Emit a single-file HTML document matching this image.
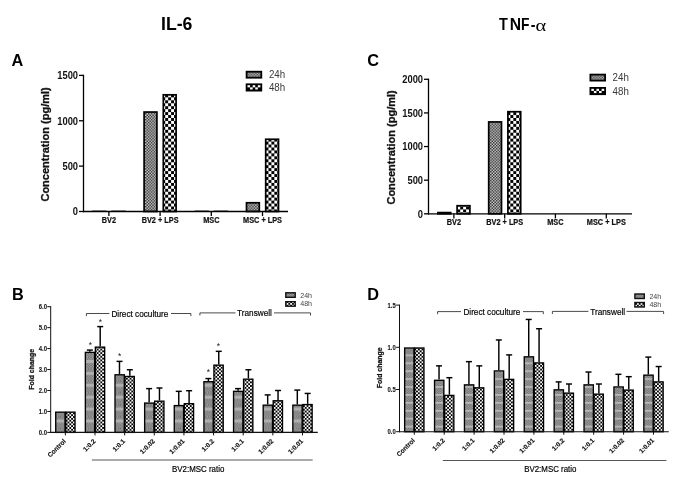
<!DOCTYPE html>
<html>
<head>
<meta charset="utf-8">
<title>IL-6 and TNF-alpha</title>
<style>
html, body { margin: 0; padding: 0; background: #ffffff; }
body { width: 685px; height: 492px; overflow: hidden; font-family: "Liberation Sans", sans-serif; }
svg { display: block; position: absolute; left: 0; top: 0; will-change: transform; }
svg text { font-family: "Liberation Sans", sans-serif; }
</style>
</head>
<body>
<svg width="685" height="492" viewBox="0 0 685 492">
<rect x="0" y="0" width="685" height="492" fill="#ffffff"/>

<defs>
<pattern id="pA24" width="2.9" height="2.9" patternUnits="userSpaceOnUse">
  <rect width="2.9" height="2.9" fill="#d2d2d2"/>
  <rect x="0" y="0" width="1.45" height="1.45" fill="#2a2a2a"/>
  <rect x="1.45" y="1.45" width="1.45" height="1.45" fill="#2a2a2a"/>
</pattern>
<pattern id="pA48" width="5.9" height="5.9" patternUnits="userSpaceOnUse">
  <rect width="5.9" height="5.9" fill="#fff"/>
  <rect x="0" y="0" width="2.95" height="2.95" fill="#000"/>
  <rect x="2.95" y="2.95" width="2.95" height="2.95" fill="#000"/>
</pattern>
<pattern id="speck" width="2.6" height="2.6" patternUnits="userSpaceOnUse">
  <rect width="2.6" height="2.6" fill="#b0b0b0"/>
  <rect x="0" y="0" width="1.3" height="1.3" fill="#606060"/>
  <rect x="1.3" y="1.3" width="1.3" height="1.3" fill="#606060"/>
</pattern>
<pattern id="pB24" width="20" height="11.9" patternUnits="userSpaceOnUse">
  <rect width="20" height="11.9" fill="url(#speck)"/>
  <rect x="0" y="3.0" width="20" height="3.0" fill="#c0c0c0" opacity="0.7"/>
</pattern>
<pattern id="pD24" width="20" height="7.92" patternUnits="userSpaceOnUse">
  <rect width="20" height="7.92" fill="url(#speck)"/>
  <rect x="0" y="5.9" width="20" height="1.8" fill="#c8c8c8" opacity="0.75"/>
</pattern>
<pattern id="pB48" width="3.65" height="3.65" patternUnits="userSpaceOnUse">
  <rect width="3.65" height="3.65" fill="#fff"/>
  <rect x="0" y="0" width="1.825" height="1.825" fill="#000"/>
  <rect x="1.825" y="1.825" width="1.825" height="1.825" fill="#000"/>
</pattern>
</defs>

<text transform="translate(176.7 29.7) scale(0.92 1)" font-size="19.2" font-weight="bold" text-anchor="middle" fill="#000">IL-6</text>
<text transform="translate(499.0 30.4) scale(0.92 1)" font-size="15.7" font-weight="bold" text-anchor="start" fill="#000">T</text>
<text transform="translate(509.7 30.4)" font-size="15.7" font-weight="bold" text-anchor="start" fill="#000">N</text>
<text transform="translate(521.0 30.4) scale(0.88 1)" font-size="15.7" font-weight="bold" text-anchor="start" fill="#000">F</text>
<text transform="translate(530.8 30.4) scale(0.9 1)" font-size="15.7" font-weight="bold" text-anchor="start" fill="#000">-</text>
<text transform="translate(535.6 30.5) scale(1.2 1)" font-size="17" style='font-family:"Liberation Serif", serif'>α</text>
<text transform="translate(11.6 65.6)" font-size="16.3" font-weight="bold" text-anchor="start" fill="#000">A</text>
<text transform="translate(12.1 299.9)" font-size="16.3" font-weight="bold" text-anchor="start" fill="#000">B</text>
<text transform="translate(367.2 65.5)" font-size="16.3" font-weight="bold" text-anchor="start" fill="#000">C</text>
<text transform="translate(367.2 299.9)" font-size="16.3" font-weight="bold" text-anchor="start" fill="#000">D</text>
<line x1="92.10" y1="210.50" x2="106.50" y2="210.50" stroke="#555" stroke-width="0.6"/>
<line x1="111.30" y1="210.50" x2="125.70" y2="210.50" stroke="#555" stroke-width="0.6"/>
<rect x="144.10" y="112.04" width="12.80" height="99.46" fill="url(#pA24)" stroke="#000" stroke-width="1.7"/>
<rect x="163.30" y="94.80" width="12.80" height="116.70" fill="url(#pA48)" stroke="#000" stroke-width="1.7"/>
<line x1="194.50" y1="210.50" x2="208.90" y2="210.50" stroke="#555" stroke-width="0.6"/>
<line x1="213.70" y1="210.50" x2="228.10" y2="210.50" stroke="#555" stroke-width="0.6"/>
<rect x="246.50" y="202.77" width="12.80" height="8.73" fill="url(#pA24)" stroke="#000" stroke-width="1.7"/>
<rect x="265.70" y="139.26" width="12.80" height="72.24" fill="url(#pA48)" stroke="#000" stroke-width="1.7"/>
<line x1="83.50" y1="74.75" x2="83.50" y2="212.15" stroke="#000" stroke-width="1.3"/>
<line x1="82.85" y1="211.50" x2="288.00" y2="211.50" stroke="#000" stroke-width="1.3"/>
<line x1="79.00" y1="211.50" x2="83.50" y2="211.50" stroke="#000" stroke-width="1.3"/>
<text transform="translate(78.1 215.4) scale(0.93 1)" font-size="10.1" font-weight="bold" text-anchor="end" fill="#111">0</text>
<line x1="79.00" y1="166.13" x2="83.50" y2="166.13" stroke="#000" stroke-width="1.3"/>
<text transform="translate(78.1 170.03333333333333) scale(0.93 1)" font-size="10.1" font-weight="bold" text-anchor="end" fill="#111">500</text>
<line x1="79.00" y1="120.77" x2="83.50" y2="120.77" stroke="#000" stroke-width="1.3"/>
<text transform="translate(78.1 124.66666666666667) scale(0.93 1)" font-size="10.1" font-weight="bold" text-anchor="end" fill="#111">1000</text>
<line x1="79.00" y1="75.40" x2="83.50" y2="75.40" stroke="#000" stroke-width="1.3"/>
<text transform="translate(78.1 79.30000000000001) scale(0.93 1)" font-size="10.1" font-weight="bold" text-anchor="end" fill="#111">1500</text>
<line x1="108.90" y1="211.50" x2="108.90" y2="216.10" stroke="#000" stroke-width="1.3"/>
<line x1="160.10" y1="211.50" x2="160.10" y2="216.10" stroke="#000" stroke-width="1.3"/>
<line x1="211.30" y1="211.50" x2="211.30" y2="216.10" stroke="#000" stroke-width="1.3"/>
<line x1="262.50" y1="211.50" x2="262.50" y2="216.10" stroke="#000" stroke-width="1.3"/>
<text transform="translate(108.9 222.75) scale(0.885 1)" font-size="8.3" font-weight="bold" text-anchor="middle" fill="#111" stroke="#111" stroke-width="0.2">BV2</text>
<text transform="translate(160.1 222.75) scale(0.885 1)" font-size="8.3" font-weight="bold" text-anchor="middle" fill="#111" stroke="#111" stroke-width="0.2">BV2 + LPS</text>
<text transform="translate(211.3 222.75) scale(0.885 1)" font-size="8.3" font-weight="bold" text-anchor="middle" fill="#111" stroke="#111" stroke-width="0.2">MSC</text>
<text transform="translate(262.5 222.75) scale(0.885 1)" font-size="8.3" font-weight="bold" text-anchor="middle" fill="#111" stroke="#111" stroke-width="0.2">MSC + LPS</text>
<text transform="translate(48.7 144.4) rotate(-90)" font-size="11.0" font-weight="bold" text-anchor="middle" fill="#111" stroke="#111" stroke-width="0.3">Concentration (pg/ml)</text>
<rect x="246.60" y="71.70" width="14.70" height="6.00" fill="url(#pA24)" stroke="#000" stroke-width="1.8"/>
<rect x="245.70" y="83.40" width="16.5" height="8.1" fill="#000"/>
<rect x="247.50" y="85.20" width="2.58" height="2.15" fill="#fff"/>
<rect x="252.66" y="85.20" width="2.58" height="2.15" fill="#fff"/>
<rect x="257.82" y="85.20" width="2.58" height="2.15" fill="#fff"/>
<rect x="250.08" y="87.35" width="2.58" height="2.15" fill="#fff"/>
<rect x="255.24" y="87.35" width="2.58" height="2.15" fill="#fff"/>
<text transform="translate(268.9 78.2) scale(0.93 1)" font-size="10.5" font-weight="normal" text-anchor="start" fill="#3a3a3a">24h</text>
<text transform="translate(268.9 91.0) scale(0.93 1)" font-size="10.5" font-weight="normal" text-anchor="start" fill="#3a3a3a">48h</text>
<rect x="437.90" y="212.58" width="12.80" height="1.22" fill="url(#pA24)" stroke="#000" stroke-width="1.7"/>
<rect x="457.10" y="205.72" width="12.80" height="8.08" fill="url(#pA48)" stroke="#000" stroke-width="1.7"/>
<rect x="488.70" y="121.93" width="12.80" height="91.87" fill="url(#pA24)" stroke="#000" stroke-width="1.7"/>
<rect x="507.90" y="111.71" width="12.80" height="102.09" fill="url(#pA48)" stroke="#000" stroke-width="1.7"/>
<line x1="428.50" y1="78.65" x2="428.50" y2="214.45" stroke="#000" stroke-width="1.3"/>
<line x1="427.85" y1="213.80" x2="632.00" y2="213.80" stroke="#000" stroke-width="1.3"/>
<line x1="424.00" y1="213.80" x2="428.50" y2="213.80" stroke="#000" stroke-width="1.3"/>
<text transform="translate(423.1 217.70000000000002) scale(0.93 1)" font-size="10.1" font-weight="bold" text-anchor="end" fill="#111">0</text>
<line x1="424.00" y1="180.18" x2="428.50" y2="180.18" stroke="#000" stroke-width="1.3"/>
<text transform="translate(423.1 184.07500000000002) scale(0.93 1)" font-size="10.1" font-weight="bold" text-anchor="end" fill="#111">500</text>
<line x1="424.00" y1="146.55" x2="428.50" y2="146.55" stroke="#000" stroke-width="1.3"/>
<text transform="translate(423.1 150.45000000000002) scale(0.93 1)" font-size="10.1" font-weight="bold" text-anchor="end" fill="#111">1000</text>
<line x1="424.00" y1="112.93" x2="428.50" y2="112.93" stroke="#000" stroke-width="1.3"/>
<text transform="translate(423.1 116.82500000000002) scale(0.93 1)" font-size="10.1" font-weight="bold" text-anchor="end" fill="#111">1500</text>
<line x1="424.00" y1="79.30" x2="428.50" y2="79.30" stroke="#000" stroke-width="1.3"/>
<text transform="translate(423.1 83.20000000000002) scale(0.93 1)" font-size="10.1" font-weight="bold" text-anchor="end" fill="#111">2000</text>
<line x1="453.90" y1="213.80" x2="453.90" y2="218.40" stroke="#000" stroke-width="1.3"/>
<line x1="504.70" y1="213.80" x2="504.70" y2="218.40" stroke="#000" stroke-width="1.3"/>
<line x1="555.40" y1="213.80" x2="555.40" y2="218.40" stroke="#000" stroke-width="1.3"/>
<line x1="606.30" y1="213.80" x2="606.30" y2="218.40" stroke="#000" stroke-width="1.3"/>
<text transform="translate(453.9 225.05) scale(0.885 1)" font-size="8.3" font-weight="bold" text-anchor="middle" fill="#111" stroke="#111" stroke-width="0.2">BV2</text>
<text transform="translate(504.7 225.05) scale(0.885 1)" font-size="8.3" font-weight="bold" text-anchor="middle" fill="#111" stroke="#111" stroke-width="0.2">BV2 + LPS</text>
<text transform="translate(555.4 225.05) scale(0.885 1)" font-size="8.3" font-weight="bold" text-anchor="middle" fill="#111" stroke="#111" stroke-width="0.2">MSC</text>
<text transform="translate(606.3 225.05) scale(0.885 1)" font-size="8.3" font-weight="bold" text-anchor="middle" fill="#111" stroke="#111" stroke-width="0.2">MSC + LPS</text>
<text transform="translate(395.3 147.4) rotate(-90)" font-size="11.0" font-weight="bold" text-anchor="middle" fill="#111" stroke="#111" stroke-width="0.3">Concentration (pg/ml)</text>
<rect x="590.40" y="74.60" width="14.70" height="6.00" fill="url(#pA24)" stroke="#000" stroke-width="1.8"/>
<rect x="589.50" y="87.00" width="16.5" height="8.1" fill="#000"/>
<rect x="591.30" y="88.80" width="2.58" height="2.15" fill="#fff"/>
<rect x="596.46" y="88.80" width="2.58" height="2.15" fill="#fff"/>
<rect x="601.62" y="88.80" width="2.58" height="2.15" fill="#fff"/>
<rect x="593.88" y="90.95" width="2.58" height="2.15" fill="#fff"/>
<rect x="599.04" y="90.95" width="2.58" height="2.15" fill="#fff"/>
<text transform="translate(612.6 81.10000000000001) scale(0.93 1)" font-size="10.5" font-weight="normal" text-anchor="start" fill="#3a3a3a">24h</text>
<text transform="translate(612.6 94.6) scale(0.93 1)" font-size="10.5" font-weight="normal" text-anchor="start" fill="#3a3a3a">48h</text>
<rect x="55.72" y="412.15" width="9.30" height="20.25" fill="url(#pB24)" stroke="#000" stroke-width="1.35"/>
<rect x="65.72" y="412.15" width="9.30" height="20.25" fill="url(#pB48)" stroke="#000" stroke-width="1.35"/>
<line x1="89.84" y1="350.07" x2="89.84" y2="351.67" stroke="#000" stroke-width="1.45"/>
<line x1="86.84" y1="350.07" x2="92.84" y2="350.07" stroke="#000" stroke-width="1.45"/>
<rect x="85.36" y="352.37" width="9.30" height="80.03" fill="url(#pB24)" stroke="#000" stroke-width="1.35"/>
<line x1="100.19" y1="326.60" x2="100.19" y2="346.43" stroke="#000" stroke-width="1.45"/>
<line x1="97.19" y1="326.60" x2="103.19" y2="326.60" stroke="#000" stroke-width="1.45"/>
<rect x="95.36" y="347.13" width="9.30" height="85.27" fill="url(#pB48)" stroke="#000" stroke-width="1.35"/>
<line x1="119.48" y1="361.38" x2="119.48" y2="374.09" stroke="#000" stroke-width="1.45"/>
<line x1="116.48" y1="361.38" x2="122.48" y2="361.38" stroke="#000" stroke-width="1.45"/>
<rect x="115.00" y="374.79" width="9.30" height="57.61" fill="url(#pB24)" stroke="#000" stroke-width="1.35"/>
<line x1="129.83" y1="369.76" x2="129.83" y2="375.76" stroke="#000" stroke-width="1.45"/>
<line x1="126.83" y1="369.76" x2="132.83" y2="369.76" stroke="#000" stroke-width="1.45"/>
<rect x="125.00" y="376.46" width="9.30" height="55.94" fill="url(#pB48)" stroke="#000" stroke-width="1.35"/>
<line x1="149.12" y1="388.61" x2="149.12" y2="402.37" stroke="#000" stroke-width="1.45"/>
<line x1="146.12" y1="388.61" x2="152.12" y2="388.61" stroke="#000" stroke-width="1.45"/>
<rect x="144.64" y="403.07" width="9.30" height="29.33" fill="url(#pB24)" stroke="#000" stroke-width="1.35"/>
<line x1="159.47" y1="387.99" x2="159.47" y2="400.48" stroke="#000" stroke-width="1.45"/>
<line x1="156.47" y1="387.99" x2="162.47" y2="387.99" stroke="#000" stroke-width="1.45"/>
<rect x="154.64" y="401.18" width="9.30" height="31.22" fill="url(#pB48)" stroke="#000" stroke-width="1.35"/>
<line x1="178.76" y1="391.34" x2="178.76" y2="404.88" stroke="#000" stroke-width="1.45"/>
<line x1="175.76" y1="391.34" x2="181.76" y2="391.34" stroke="#000" stroke-width="1.45"/>
<rect x="174.28" y="405.58" width="9.30" height="26.82" fill="url(#pB24)" stroke="#000" stroke-width="1.35"/>
<line x1="189.11" y1="390.71" x2="189.11" y2="403.00" stroke="#000" stroke-width="1.45"/>
<line x1="186.11" y1="390.71" x2="192.11" y2="390.71" stroke="#000" stroke-width="1.45"/>
<rect x="184.28" y="403.70" width="9.30" height="28.70" fill="url(#pB48)" stroke="#000" stroke-width="1.35"/>
<line x1="208.40" y1="378.56" x2="208.40" y2="381.00" stroke="#000" stroke-width="1.45"/>
<line x1="205.40" y1="378.56" x2="211.40" y2="378.56" stroke="#000" stroke-width="1.45"/>
<rect x="203.92" y="381.70" width="9.30" height="50.70" fill="url(#pB24)" stroke="#000" stroke-width="1.35"/>
<line x1="218.75" y1="351.32" x2="218.75" y2="364.45" stroke="#000" stroke-width="1.45"/>
<line x1="215.75" y1="351.32" x2="221.75" y2="351.32" stroke="#000" stroke-width="1.45"/>
<rect x="213.92" y="365.15" width="9.30" height="67.25" fill="url(#pB48)" stroke="#000" stroke-width="1.35"/>
<line x1="238.04" y1="388.61" x2="238.04" y2="390.64" stroke="#000" stroke-width="1.45"/>
<line x1="235.04" y1="388.61" x2="241.04" y2="388.61" stroke="#000" stroke-width="1.45"/>
<rect x="233.56" y="391.34" width="9.30" height="41.06" fill="url(#pB24)" stroke="#000" stroke-width="1.35"/>
<line x1="248.39" y1="369.76" x2="248.39" y2="378.49" stroke="#000" stroke-width="1.45"/>
<line x1="245.39" y1="369.76" x2="251.39" y2="369.76" stroke="#000" stroke-width="1.45"/>
<rect x="243.56" y="379.19" width="9.30" height="53.21" fill="url(#pB48)" stroke="#000" stroke-width="1.35"/>
<line x1="267.68" y1="394.90" x2="267.68" y2="404.46" stroke="#000" stroke-width="1.45"/>
<line x1="264.68" y1="394.90" x2="270.68" y2="394.90" stroke="#000" stroke-width="1.45"/>
<rect x="263.20" y="405.16" width="9.30" height="27.23" fill="url(#pB24)" stroke="#000" stroke-width="1.35"/>
<line x1="278.03" y1="390.50" x2="278.03" y2="400.07" stroke="#000" stroke-width="1.45"/>
<line x1="275.03" y1="390.50" x2="281.03" y2="390.50" stroke="#000" stroke-width="1.45"/>
<rect x="273.20" y="400.77" width="9.30" height="31.63" fill="url(#pB48)" stroke="#000" stroke-width="1.35"/>
<line x1="297.31" y1="390.08" x2="297.31" y2="404.46" stroke="#000" stroke-width="1.45"/>
<line x1="294.31" y1="390.08" x2="300.31" y2="390.08" stroke="#000" stroke-width="1.45"/>
<rect x="292.84" y="405.16" width="9.30" height="27.23" fill="url(#pB24)" stroke="#000" stroke-width="1.35"/>
<line x1="307.67" y1="393.43" x2="307.67" y2="403.84" stroke="#000" stroke-width="1.45"/>
<line x1="304.67" y1="393.43" x2="310.67" y2="393.43" stroke="#000" stroke-width="1.45"/>
<rect x="302.84" y="404.54" width="9.30" height="27.86" fill="url(#pB48)" stroke="#000" stroke-width="1.35"/>
<line x1="50.70" y1="306.20" x2="50.70" y2="432.90" stroke="#111" stroke-width="1.0"/>
<line x1="50.20" y1="432.40" x2="317.80" y2="432.40" stroke="#111" stroke-width="1.1"/>
<line x1="47.30" y1="432.40" x2="50.70" y2="432.40" stroke="#111" stroke-width="1.0"/>
<text transform="translate(47.0 434.84999999999997) scale(0.87 1)" font-size="6.8" font-weight="bold" text-anchor="end" fill="#1a1a1a" stroke="#1a1a1a" stroke-width="0.12">0.0</text>
<line x1="47.30" y1="411.45" x2="50.70" y2="411.45" stroke="#111" stroke-width="1.0"/>
<text transform="translate(47.0 413.9) scale(0.87 1)" font-size="6.8" font-weight="bold" text-anchor="end" fill="#1a1a1a" stroke="#1a1a1a" stroke-width="0.12">1.0</text>
<line x1="47.30" y1="390.50" x2="50.70" y2="390.50" stroke="#111" stroke-width="1.0"/>
<text transform="translate(47.0 392.95) scale(0.87 1)" font-size="6.8" font-weight="bold" text-anchor="end" fill="#1a1a1a" stroke="#1a1a1a" stroke-width="0.12">2.0</text>
<line x1="47.30" y1="369.55" x2="50.70" y2="369.55" stroke="#111" stroke-width="1.0"/>
<text transform="translate(47.0 371.99999999999994) scale(0.87 1)" font-size="6.8" font-weight="bold" text-anchor="end" fill="#1a1a1a" stroke="#1a1a1a" stroke-width="0.12">3.0</text>
<line x1="47.30" y1="348.60" x2="50.70" y2="348.60" stroke="#111" stroke-width="1.0"/>
<text transform="translate(47.0 351.04999999999995) scale(0.87 1)" font-size="6.8" font-weight="bold" text-anchor="end" fill="#1a1a1a" stroke="#1a1a1a" stroke-width="0.12">4.0</text>
<line x1="47.30" y1="327.65" x2="50.70" y2="327.65" stroke="#111" stroke-width="1.0"/>
<text transform="translate(47.0 330.09999999999997) scale(0.87 1)" font-size="6.8" font-weight="bold" text-anchor="end" fill="#1a1a1a" stroke="#1a1a1a" stroke-width="0.12">5.0</text>
<line x1="47.30" y1="306.70" x2="50.70" y2="306.70" stroke="#111" stroke-width="1.0"/>
<text transform="translate(47.0 309.15) scale(0.87 1)" font-size="6.8" font-weight="bold" text-anchor="end" fill="#1a1a1a" stroke="#1a1a1a" stroke-width="0.12">6.0</text>
<line x1="65.37" y1="432.40" x2="65.37" y2="435.40" stroke="#111" stroke-width="1.0"/>
<text transform="translate(66.37 441.7) rotate(-45) scale(0.97 1)" font-size="6.6" font-weight="bold" text-anchor="end" fill="#111" stroke="#111" stroke-width="0.15">Control</text>
<line x1="95.01" y1="432.40" x2="95.01" y2="435.40" stroke="#111" stroke-width="1.0"/>
<text transform="translate(96.01 441.7) rotate(-45) scale(0.97 1)" font-size="6.6" font-weight="bold" text-anchor="end" fill="#111" stroke="#111" stroke-width="0.15">1:0.2</text>
<line x1="124.65" y1="432.40" x2="124.65" y2="435.40" stroke="#111" stroke-width="1.0"/>
<text transform="translate(125.65 441.7) rotate(-45) scale(0.97 1)" font-size="6.6" font-weight="bold" text-anchor="end" fill="#111" stroke="#111" stroke-width="0.15">1:0.1</text>
<line x1="154.29" y1="432.40" x2="154.29" y2="435.40" stroke="#111" stroke-width="1.0"/>
<text transform="translate(155.29000000000002 441.7) rotate(-45) scale(0.97 1)" font-size="6.6" font-weight="bold" text-anchor="end" fill="#111" stroke="#111" stroke-width="0.15">1:0.02</text>
<line x1="183.93" y1="432.40" x2="183.93" y2="435.40" stroke="#111" stroke-width="1.0"/>
<text transform="translate(184.93 441.7) rotate(-45) scale(0.97 1)" font-size="6.6" font-weight="bold" text-anchor="end" fill="#111" stroke="#111" stroke-width="0.15">1:0.01</text>
<line x1="213.57" y1="432.40" x2="213.57" y2="435.40" stroke="#111" stroke-width="1.0"/>
<text transform="translate(214.57000000000002 441.7) rotate(-45) scale(0.97 1)" font-size="6.6" font-weight="bold" text-anchor="end" fill="#111" stroke="#111" stroke-width="0.15">1:0.2</text>
<line x1="243.21" y1="432.40" x2="243.21" y2="435.40" stroke="#111" stroke-width="1.0"/>
<text transform="translate(244.21 441.7) rotate(-45) scale(0.97 1)" font-size="6.6" font-weight="bold" text-anchor="end" fill="#111" stroke="#111" stroke-width="0.15">1:0.1</text>
<line x1="272.85" y1="432.40" x2="272.85" y2="435.40" stroke="#111" stroke-width="1.0"/>
<text transform="translate(273.85 441.7) rotate(-45) scale(0.97 1)" font-size="6.6" font-weight="bold" text-anchor="end" fill="#111" stroke="#111" stroke-width="0.15">1:0.02</text>
<line x1="302.49" y1="432.40" x2="302.49" y2="435.40" stroke="#111" stroke-width="1.0"/>
<text transform="translate(303.49 441.7) rotate(-45) scale(0.97 1)" font-size="6.6" font-weight="bold" text-anchor="end" fill="#111" stroke="#111" stroke-width="0.15">1:0.01</text>
<text transform="translate(34.0 369.3) rotate(-90)" font-size="6.95" font-weight="bold" text-anchor="middle" fill="#111" stroke="#111" stroke-width="0.25">Fold change</text>
<rect x="285.80" y="292.80" width="9.40" height="4.50" fill="url(#speck)" stroke="#111" stroke-width="1.4"/>
<rect x="285.80" y="301.70" width="9.40" height="4.50" fill="url(#pB48)" stroke="#111" stroke-width="1.4"/>
<text transform="translate(300.2 297.70000000000005) scale(0.9 1)" font-size="7.9" font-weight="normal" text-anchor="start" fill="#444">24h</text>
<text transform="translate(300.2 306.2) scale(0.9 1)" font-size="7.9" font-weight="normal" text-anchor="start" fill="#444">48h</text>
<polyline points="86.4,316.1 86.4,313.5 109.4,313.5" fill="none" stroke="#2a2a2a" stroke-width="0.85"/>
<polyline points="171.0,313.5 190.9,313.5 190.9,316.1" fill="none" stroke="#2a2a2a" stroke-width="0.85"/>
<text transform="translate(139.9 316.8) scale(0.935 1)" font-size="8.8" font-weight="normal" text-anchor="middle" fill="#000" stroke="#000" stroke-width="0.18">Direct coculture</text>
<polyline points="199.9,315.5 199.9,312.9 235.5,312.9" fill="none" stroke="#2a2a2a" stroke-width="0.85"/>
<polyline points="274.0,312.9 310.5,312.9 310.5,315.5" fill="none" stroke="#2a2a2a" stroke-width="0.85"/>
<text transform="translate(254.5 316.2) scale(0.935 1)" font-size="8.8" font-weight="normal" text-anchor="middle" fill="#000" stroke="#000" stroke-width="0.18">Transwell</text>
<line x1="91.90" y1="460.00" x2="312.70" y2="460.00" stroke="#444" stroke-width="0.9"/>
<text transform="translate(198.2 471.6) scale(0.9 1)" font-size="8.8" font-weight="normal" text-anchor="middle" fill="#000" stroke="#000" stroke-width="0.18">BV2:MSC ratio</text>
<text transform="translate(90.5 347.5)" font-size="8.5" font-weight="normal" text-anchor="middle" fill="#222">*</text>
<text transform="translate(100.3 324.7)" font-size="8.5" font-weight="normal" text-anchor="middle" fill="#222">*</text>
<text transform="translate(119.6 359.0)" font-size="8.5" font-weight="normal" text-anchor="middle" fill="#222">*</text>
<text transform="translate(208.5 374.6)" font-size="8.5" font-weight="normal" text-anchor="middle" fill="#222">*</text>
<text transform="translate(218.4 348.6)" font-size="8.5" font-weight="normal" text-anchor="middle" fill="#222">*</text>
<rect x="404.65" y="348.00" width="9.30" height="83.70" fill="url(#pD24)" stroke="#000" stroke-width="1.35"/>
<rect x="414.65" y="348.00" width="9.30" height="83.70" fill="url(#pB48)" stroke="#000" stroke-width="1.35"/>
<line x1="439.03" y1="365.87" x2="439.03" y2="379.60" stroke="#000" stroke-width="1.45"/>
<line x1="436.03" y1="365.87" x2="442.03" y2="365.87" stroke="#000" stroke-width="1.45"/>
<rect x="434.55" y="380.30" width="9.30" height="51.40" fill="url(#pD24)" stroke="#000" stroke-width="1.35"/>
<line x1="449.38" y1="377.68" x2="449.38" y2="394.71" stroke="#000" stroke-width="1.45"/>
<line x1="446.38" y1="377.68" x2="452.38" y2="377.68" stroke="#000" stroke-width="1.45"/>
<rect x="444.55" y="395.41" width="9.30" height="36.29" fill="url(#pB48)" stroke="#000" stroke-width="1.35"/>
<line x1="468.93" y1="361.65" x2="468.93" y2="384.16" stroke="#000" stroke-width="1.45"/>
<line x1="465.93" y1="361.65" x2="471.93" y2="361.65" stroke="#000" stroke-width="1.45"/>
<rect x="464.45" y="384.86" width="9.30" height="46.84" fill="url(#pD24)" stroke="#000" stroke-width="1.35"/>
<line x1="479.28" y1="365.87" x2="479.28" y2="387.11" stroke="#000" stroke-width="1.45"/>
<line x1="476.28" y1="365.87" x2="482.28" y2="365.87" stroke="#000" stroke-width="1.45"/>
<rect x="474.45" y="387.81" width="9.30" height="43.89" fill="url(#pB48)" stroke="#000" stroke-width="1.35"/>
<line x1="498.82" y1="339.96" x2="498.82" y2="370.23" stroke="#000" stroke-width="1.45"/>
<line x1="495.82" y1="339.96" x2="501.82" y2="339.96" stroke="#000" stroke-width="1.45"/>
<rect x="494.35" y="370.93" width="9.30" height="60.77" fill="url(#pD24)" stroke="#000" stroke-width="1.35"/>
<line x1="509.18" y1="354.90" x2="509.18" y2="378.67" stroke="#000" stroke-width="1.45"/>
<line x1="506.18" y1="354.90" x2="512.17" y2="354.90" stroke="#000" stroke-width="1.45"/>
<rect x="504.35" y="379.37" width="9.30" height="52.33" fill="url(#pB48)" stroke="#000" stroke-width="1.35"/>
<line x1="528.72" y1="319.45" x2="528.72" y2="356.14" stroke="#000" stroke-width="1.45"/>
<line x1="525.72" y1="319.45" x2="531.72" y2="319.45" stroke="#000" stroke-width="1.45"/>
<rect x="524.25" y="356.84" width="9.30" height="74.86" fill="url(#pD24)" stroke="#000" stroke-width="1.35"/>
<line x1="539.07" y1="328.73" x2="539.07" y2="362.21" stroke="#000" stroke-width="1.45"/>
<line x1="536.07" y1="328.73" x2="542.07" y2="328.73" stroke="#000" stroke-width="1.45"/>
<rect x="534.25" y="362.91" width="9.30" height="68.79" fill="url(#pB48)" stroke="#000" stroke-width="1.35"/>
<line x1="558.62" y1="381.90" x2="558.62" y2="389.14" stroke="#000" stroke-width="1.45"/>
<line x1="555.62" y1="381.90" x2="561.62" y2="381.90" stroke="#000" stroke-width="1.45"/>
<rect x="554.15" y="389.84" width="9.30" height="41.86" fill="url(#pD24)" stroke="#000" stroke-width="1.35"/>
<line x1="568.97" y1="384.01" x2="568.97" y2="392.43" stroke="#000" stroke-width="1.45"/>
<line x1="565.97" y1="384.01" x2="571.97" y2="384.01" stroke="#000" stroke-width="1.45"/>
<rect x="564.15" y="393.13" width="9.30" height="38.57" fill="url(#pB48)" stroke="#000" stroke-width="1.35"/>
<line x1="588.52" y1="372.03" x2="588.52" y2="384.16" stroke="#000" stroke-width="1.45"/>
<line x1="585.52" y1="372.03" x2="591.52" y2="372.03" stroke="#000" stroke-width="1.45"/>
<rect x="584.05" y="384.86" width="9.30" height="46.84" fill="url(#pD24)" stroke="#000" stroke-width="1.35"/>
<line x1="598.88" y1="384.01" x2="598.88" y2="393.44" stroke="#000" stroke-width="1.45"/>
<line x1="595.88" y1="384.01" x2="601.88" y2="384.01" stroke="#000" stroke-width="1.45"/>
<rect x="594.05" y="394.14" width="9.30" height="37.56" fill="url(#pB48)" stroke="#000" stroke-width="1.35"/>
<line x1="618.42" y1="374.31" x2="618.42" y2="386.27" stroke="#000" stroke-width="1.45"/>
<line x1="615.42" y1="374.31" x2="621.42" y2="374.31" stroke="#000" stroke-width="1.45"/>
<rect x="613.95" y="386.97" width="9.30" height="44.73" fill="url(#pD24)" stroke="#000" stroke-width="1.35"/>
<line x1="628.77" y1="376.67" x2="628.77" y2="389.39" stroke="#000" stroke-width="1.45"/>
<line x1="625.77" y1="376.67" x2="631.77" y2="376.67" stroke="#000" stroke-width="1.45"/>
<rect x="623.95" y="390.09" width="9.30" height="41.61" fill="url(#pB48)" stroke="#000" stroke-width="1.35"/>
<line x1="648.32" y1="357.09" x2="648.32" y2="374.45" stroke="#000" stroke-width="1.45"/>
<line x1="645.32" y1="357.09" x2="651.32" y2="357.09" stroke="#000" stroke-width="1.45"/>
<rect x="643.85" y="375.15" width="9.30" height="56.55" fill="url(#pD24)" stroke="#000" stroke-width="1.35"/>
<line x1="658.67" y1="366.54" x2="658.67" y2="381.20" stroke="#000" stroke-width="1.45"/>
<line x1="655.67" y1="366.54" x2="661.67" y2="366.54" stroke="#000" stroke-width="1.45"/>
<rect x="653.85" y="381.90" width="9.30" height="49.80" fill="url(#pB48)" stroke="#000" stroke-width="1.35"/>
<line x1="399.50" y1="304.60" x2="399.50" y2="432.20" stroke="#111" stroke-width="1.0"/>
<line x1="399.00" y1="431.70" x2="668.80" y2="431.70" stroke="#111" stroke-width="1.1"/>
<line x1="396.10" y1="431.70" x2="399.50" y2="431.70" stroke="#111" stroke-width="1.0"/>
<text transform="translate(395.8 434.15) scale(0.87 1)" font-size="6.8" font-weight="bold" text-anchor="end" fill="#1a1a1a" stroke="#1a1a1a" stroke-width="0.12">0.0</text>
<line x1="396.10" y1="389.50" x2="399.50" y2="389.50" stroke="#111" stroke-width="1.0"/>
<text transform="translate(395.8 391.95) scale(0.87 1)" font-size="6.8" font-weight="bold" text-anchor="end" fill="#1a1a1a" stroke="#1a1a1a" stroke-width="0.12">0.5</text>
<line x1="396.10" y1="347.30" x2="399.50" y2="347.30" stroke="#111" stroke-width="1.0"/>
<text transform="translate(395.8 349.74999999999994) scale(0.87 1)" font-size="6.8" font-weight="bold" text-anchor="end" fill="#1a1a1a" stroke="#1a1a1a" stroke-width="0.12">1.0</text>
<line x1="396.10" y1="305.10" x2="399.50" y2="305.10" stroke="#111" stroke-width="1.0"/>
<text transform="translate(395.8 307.54999999999995) scale(0.87 1)" font-size="6.8" font-weight="bold" text-anchor="end" fill="#1a1a1a" stroke="#1a1a1a" stroke-width="0.12">1.5</text>
<line x1="414.30" y1="431.70" x2="414.30" y2="434.70" stroke="#111" stroke-width="1.0"/>
<text transform="translate(415.3 441.0) rotate(-45) scale(0.97 1)" font-size="6.6" font-weight="bold" text-anchor="end" fill="#111" stroke="#111" stroke-width="0.15">Control</text>
<line x1="444.20" y1="431.70" x2="444.20" y2="434.70" stroke="#111" stroke-width="1.0"/>
<text transform="translate(445.20000000000005 441.0) rotate(-45) scale(0.97 1)" font-size="6.6" font-weight="bold" text-anchor="end" fill="#111" stroke="#111" stroke-width="0.15">1:0.2</text>
<line x1="474.10" y1="431.70" x2="474.10" y2="434.70" stroke="#111" stroke-width="1.0"/>
<text transform="translate(475.1 441.0) rotate(-45) scale(0.97 1)" font-size="6.6" font-weight="bold" text-anchor="end" fill="#111" stroke="#111" stroke-width="0.15">1:0.1</text>
<line x1="504.00" y1="431.70" x2="504.00" y2="434.70" stroke="#111" stroke-width="1.0"/>
<text transform="translate(505.0 441.0) rotate(-45) scale(0.97 1)" font-size="6.6" font-weight="bold" text-anchor="end" fill="#111" stroke="#111" stroke-width="0.15">1:0.02</text>
<line x1="533.90" y1="431.70" x2="533.90" y2="434.70" stroke="#111" stroke-width="1.0"/>
<text transform="translate(534.9 441.0) rotate(-45) scale(0.97 1)" font-size="6.6" font-weight="bold" text-anchor="end" fill="#111" stroke="#111" stroke-width="0.15">1:0.01</text>
<line x1="563.80" y1="431.70" x2="563.80" y2="434.70" stroke="#111" stroke-width="1.0"/>
<text transform="translate(564.8 441.0) rotate(-45) scale(0.97 1)" font-size="6.6" font-weight="bold" text-anchor="end" fill="#111" stroke="#111" stroke-width="0.15">1:0.2</text>
<line x1="593.70" y1="431.70" x2="593.70" y2="434.70" stroke="#111" stroke-width="1.0"/>
<text transform="translate(594.7 441.0) rotate(-45) scale(0.97 1)" font-size="6.6" font-weight="bold" text-anchor="end" fill="#111" stroke="#111" stroke-width="0.15">1:0.1</text>
<line x1="623.60" y1="431.70" x2="623.60" y2="434.70" stroke="#111" stroke-width="1.0"/>
<text transform="translate(624.6 441.0) rotate(-45) scale(0.97 1)" font-size="6.6" font-weight="bold" text-anchor="end" fill="#111" stroke="#111" stroke-width="0.15">1:0.02</text>
<line x1="653.50" y1="431.70" x2="653.50" y2="434.70" stroke="#111" stroke-width="1.0"/>
<text transform="translate(654.5 441.0) rotate(-45) scale(0.97 1)" font-size="6.6" font-weight="bold" text-anchor="end" fill="#111" stroke="#111" stroke-width="0.15">1:0.01</text>
<text transform="translate(381.9 367.8) rotate(-90)" font-size="6.95" font-weight="bold" text-anchor="middle" fill="#111" stroke="#111" stroke-width="0.25">Fold change</text>
<rect x="634.90" y="294.00" width="9.40" height="4.50" fill="url(#speck)" stroke="#111" stroke-width="1.4"/>
<rect x="634.90" y="302.50" width="9.40" height="4.50" fill="url(#pB48)" stroke="#111" stroke-width="1.4"/>
<text transform="translate(649.4 298.90000000000003) scale(0.9 1)" font-size="7.9" font-weight="normal" text-anchor="start" fill="#444">24h</text>
<text transform="translate(649.4 307.0) scale(0.9 1)" font-size="7.9" font-weight="normal" text-anchor="start" fill="#444">48h</text>
<polyline points="437.6,314.20000000000005 437.6,311.6 461.0,311.6" fill="none" stroke="#2a2a2a" stroke-width="0.85"/>
<polyline points="523.0,311.6 543.3,311.6 543.3,314.20000000000005" fill="none" stroke="#2a2a2a" stroke-width="0.85"/>
<text transform="translate(491.9 314.90000000000003) scale(0.935 1)" font-size="8.8" font-weight="normal" text-anchor="middle" fill="#000" stroke="#000" stroke-width="0.18">Direct coculture</text>
<polyline points="552.4,314.0 552.4,311.4 588.4,311.4" fill="none" stroke="#2a2a2a" stroke-width="0.85"/>
<polyline points="626.6,311.4 663.6,311.4 663.6,314.0" fill="none" stroke="#2a2a2a" stroke-width="0.85"/>
<text transform="translate(607.7 314.7) scale(0.935 1)" font-size="8.8" font-weight="normal" text-anchor="middle" fill="#000" stroke="#000" stroke-width="0.18">Transwell</text>
<line x1="442.80" y1="460.50" x2="666.40" y2="460.50" stroke="#444" stroke-width="0.9"/>
<text transform="translate(550.3 471.6) scale(0.9 1)" font-size="8.8" font-weight="normal" text-anchor="middle" fill="#000" stroke="#000" stroke-width="0.18">BV2:MSC ratio</text>
</svg>
</body>
</html>
